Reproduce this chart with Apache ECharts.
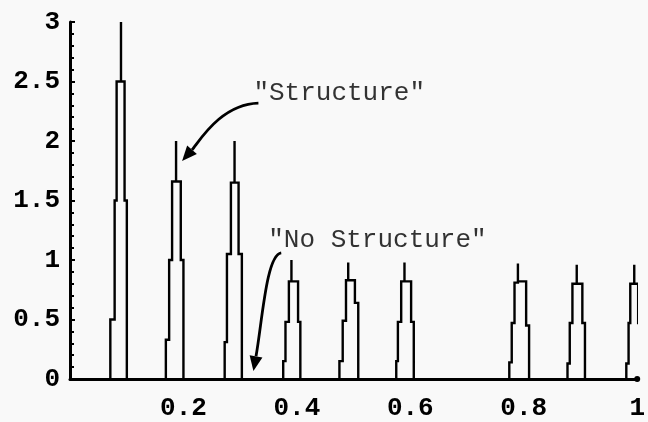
<!DOCTYPE html>
<html>
<head>
<meta charset="utf-8">
<script src="https://cdn.jsdelivr.net/npm/echarts@6/dist/echarts.min.js"></script>
<style>
    html, body { margin: 0; padding: 0; background: #f9f9f9; }
    #chart { width: 648px; height: 422px; }
</style>
</head>
<body>
<div id="chart"></div>
<script>
(function () {
    'use strict';

    // tick labels
    var xTicks = [0.2, 0.4, 0.6, 0.8, 1];
    var yTicks = [0, 0.5, 1, 1.5, 2, 2.5, 3];

    // each tower: left edge steps (outside -> in), the peak line, right edge steps (in -> outside)
    var towerLeft = [
        [[0.0711, 0.5], [0.0787, 1.5], [0.0822, 2.5]],
        [[0.1690, 0.33], [0.1748, 1.0], [0.1800, 1.66]],
        [[0.2727, 0.31], [0.2767, 1.05], [0.2837, 1.65]],
        [[0.3759, 0.15], [0.3799, 0.48], [0.3859, 0.82]],
        [[0.4750, 0.15], [0.4808, 0.49], [0.4866, 0.83]],
        [[0.5752, 0.15], [0.5781, 0.48], [0.5839, 0.82]],
        [[0.7745, 0.14], [0.7788, 0.47], [0.7837, 0.81]],
        [[0.8771, 0.13], [0.8811, 0.47], [0.8858, 0.8]],
        [[0.9808, 0.13], [0.9848, 0.47], [0.9878, 0.8]]
    ];
    var towerPeak = [
        [0.0899, 3.0], [0.1870, 2.0], [0.2901, 2.0],
        [0.3904, 1.0], [0.4905, 0.98], [0.5897, 0.98],
        [0.7897, 0.97], [0.8934, 0.96], [0.9948, 0.96]
    ];
    var towerRight = [
        [[0.0944, 2.5], [0.0962, 1.5], [0.1002, 0.5]],
        [[0.1923, 1.66], [0.1953, 1.0], [0.2000, 0.33]],
        [[0.2942, 1.65], [0.2972, 1.05], [0.3030, 0.34]],
        [[0.3974, 0.82], [0.4021, 0.48], [0.4061, 0.15]],
        [[0.4965, 0.83], [0.5023, 0.64], [0.5082, 0.36]],
        [[0.5956, 0.82], [0.6014, 0.48], [0.6061, 0.15]],
        [[0.7977, 0.82], [0.8042, 0.45], [0.8094, 0.1]],
        [[0.8986, 0.8], [0.9033, 0.47], [0.9079, 0.13]],
        [[0.9983, 0.8], [1.0017, 0.47], [1.0050, 0.13]]
    ];

    // annotations: text anchor, and a curved arrow (start, two control points, tip)
    var noteTexts = ['"Structure"', '"No Structure"'];
    var noteAnchors = [[0.3233, 2.40], [0.3495, 1.17]];
    var arrowFrom = [[0.3322, 2.319], [0.3724, 1.059]];
    var arrowCtrl1 = [[0.2657, 2.311], [0.3462, 1.042]];
    var arrowCtrl2 = [[0.2273, 1.992], [0.3392, 0.496]];
    var arrowTo = [[0.1976, 1.832], [0.3234, 0.067]];

    var monoFont = '"Liberation Mono", "DejaVu Sans Mono", monospace';

    function outline(left, peak, right) {
        var pts = [[left[0][0], 0]];
        for (var i = 0; i < left.length; i++) {
            if (i > 0) pts.push([left[i][0], left[i - 1][1]]);
            pts.push([left[i][0], left[i][1]]);
        }
        pts.push([peak[0], left[left.length - 1][1]]);
        pts.push([peak[0], peak[1]]);
        pts.push([peak[0], right[0][1]]);
        var prevH = right[0][1];
        for (var j = 0; j < right.length; j++) {
            if (j > 0) pts.push([right[j][0], prevH]);
            else pts.push([right[j][0], right[j][1]]);
            pts.push([right[j][0], right[j][1]]);
            prevH = right[j][1];
        }
        pts.push([right[right.length - 1][0], 0]);
        return pts;
    }

    var towerSeries = {
        type: 'custom',
        data: towerPeak,
        clip: true,
        silent: true,
        renderItem: function (params, api) {
            var i = params.dataIndex;
            var pts = outline(towerLeft[i], towerPeak[i], towerRight[i]).map(function (p) {
                return api.coord(p);
            });
            return {
                type: 'polyline',
                shape: { points: pts },
                style: { stroke: '#000', lineWidth: 2.4, fill: null }
            };
        }
    };

    var arrowSeries = {
        type: 'custom',
        data: arrowTo,
        silent: true,
        renderItem: function (params, api) {
            var k = params.dataIndex;
            var p0 = api.coord(arrowFrom[k]);
            var c1 = api.coord(arrowCtrl1[k]);
            var c2 = api.coord(arrowCtrl2[k]);
            var p3 = api.coord(arrowTo[k]);
            var dx = p3[0] - c2[0];
            var dy = p3[1] - c2[1];
            var len = Math.sqrt(dx * dx + dy * dy);
            var ux = dx / len, uy = dy / len;
            var headLen = 15, headHalf = 6.5;
            var bx = p3[0] - ux * headLen, by = p3[1] - uy * headLen;
            return {
                type: 'group',
                children: [{
                    type: 'bezierCurve',
                    shape: {
                        x1: p0[0], y1: p0[1],
                        cpx1: c1[0], cpy1: c1[1],
                        cpx2: c2[0], cpy2: c2[1],
                        x2: bx, y2: by
                    },
                    style: { stroke: '#000', lineWidth: 2.8, fill: null }
                }, {
                    type: 'polygon',
                    shape: {
                        points: [
                            [p3[0], p3[1]],
                            [bx - uy * headHalf, by + ux * headHalf],
                            [bx + uy * headHalf, by - ux * headHalf]
                        ]
                    },
                    style: { fill: '#000' }
                }]
            };
        }
    };

    var noteData = [];
    for (var k = 0; k < noteTexts.length; k++) {
        noteData.push({ value: noteAnchors[k], name: noteTexts[k] });
    }
    var noteSeries = {
        type: 'scatter',
        data: noteData,
        symbolSize: 0,
        silent: true,
        label: {
            show: true,
            position: 'right',
            distance: 0,
            formatter: '{b}',
            color: '#000',
            fontFamily: monoFont,
            fontSize: 26
        }
    };

    var chart = echarts.init(document.getElementById('chart'));
    chart.setOption({
        animation: false,
        backgroundColor: '#f9f9f9',
        grid: { left: 70, right: 6, top: 22, bottom: 43 },
        xAxis: {
            type: 'value',
            min: 0,
            max: 1,
            interval: 0.2,
            axisLine: {
                lineStyle: { color: '#000', width: 3 },
                symbol: ['none', 'circle'],
                symbolSize: [6, 6]
            },
            axisTick: { show: false },
            splitLine: { show: false },
            axisLabel: {
                showMinLabel: false,
                margin: 16,
                color: '#000',
                fontFamily: monoFont,
                fontWeight: 'bold',
                fontSize: 26,
                formatter: function (v) {
                    for (var i = 0; i < xTicks.length; i++) {
                        if (Math.abs(xTicks[i] - v) < 1e-6) return String(xTicks[i]);
                    }
                    return '';
                }
            }
        },
        yAxis: {
            type: 'value',
            min: yTicks[0],
            max: yTicks[yTicks.length - 1],
            interval: 0.5,
            axisLine: { show: true, lineStyle: { color: '#000', width: 3 } },
            axisTick: { show: true, inside: true, length: 5, lineStyle: { color: '#000', width: 2 } },
            minorTick: { show: true, splitNumber: 5, length: 4, lineStyle: { color: '#000', width: 2 } },
            splitLine: { show: false },
            axisLabel: {
                margin: 10,
                color: '#000',
                fontFamily: monoFont,
                fontWeight: 'bold',
                fontSize: 26
            }
        },
        series: [towerSeries, arrowSeries, noteSeries]
    });
}());
</script>
</body>
</html>
